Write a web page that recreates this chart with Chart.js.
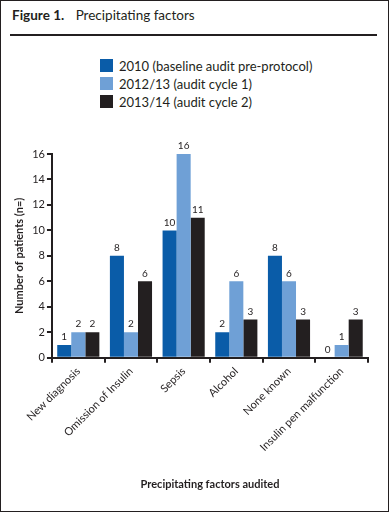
<!DOCTYPE html>
<html>
<head>
<meta charset="utf-8">
<script src="https://cdn.jsdelivr.net/npm/chart.js@4"></script>
<style>
  html, body { margin: 0; padding: 0; background: #fff; }
  body { width: 390px; height: 513px; position: relative; overflow: hidden; font-family: Lato, "Liberation Sans", sans-serif; color: #231f20; }
  #frame { position: absolute; left: 0; top: 0; width: 387px; height: 510px; border: 1.5px solid #231f20; }
  #title { position: absolute; left: 12px; top: 7px; font-size: 13.5px; }
  #title b { margin-right: 8px; }
  #rule { position: absolute; left: 10px; top: 34px; width: 367px; height: 2px; background: #231f20; }
  #legend { position: absolute; left: 100px; top: 59px; font-size: 13px; }
  .item { height: 18px; line-height: 14px; white-space: nowrap; }
  .item span.box { display: inline-block; width: 13px; height: 13px; vertical-align: top; margin-right: 6px; }
  #wrap { position: absolute; left: 2px; top: 118px; width: 386px; height: 392px; }
</style>
</head>
<body>
<div id="frame"></div>
<div id="title"><b>Figure 1.</b> Precipitating factors</div>
<div id="rule"></div>
<div id="legend"></div>
<div id="wrap"><canvas id="chart"></canvas></div>
<script>
const factors = ['New diagnosis', 'Omission of Insulin', 'Sepsis', 'Alcohol', 'None known', 'Insulin pen malfunction'];
const seriesNames = ['2010 (baseline audit pre-protocol)', '2012/13 (audit cycle 1)', '2013/14 (audit cycle 2)'];
const audit2010 = [1, 8, 10, 2, 8, 0];
const audit1213 = [2, 2, 16, 6, 6, 1];
const audit1314 = [2, 6, 11, 3, 3, 3];
const yTicks = [0, 2, 4, 6, 8, 10, 12, 14, 16];
const colours = ['#0a5ca8', '#6fa0d6', '#231f20'];

const seriesValues = [audit2010, audit1213, audit1314];

// simple html legend, stacked
const legendEl = document.getElementById('legend');
for (let i = 0; i < seriesNames.length; i++) {
    const row = document.createElement('div');
    row.className = 'item';
    row.innerHTML = '<span class="box" style="background:' + colours[i] + '"></span>' + seriesNames[i];
    legendEl.appendChild(row);
}

// numbers above the bars
const barValues = {
    id: 'barValues',
    afterDatasetsDraw(chart) {
        const ctx = chart.ctx;
        ctx.save();
        ctx.font = '10px Lato, "Liberation Sans", sans-serif';
        ctx.fillStyle = '#231f20';
        ctx.textAlign = 'center';
        ctx.textBaseline = 'bottom';
        chart.data.datasets.forEach((ds, i) => {
            chart.getDatasetMeta(i).data.forEach((bar, j) => {
                ctx.fillText(ds.data[j], bar.x, bar.y - 3);
            });
        });
        ctx.restore();
    }
};

const ctx = document.getElementById('chart').getContext('2d');
const chart = new Chart(ctx, {
    type: 'bar',
    data: {
        labels: factors,
        datasets: seriesNames.map((name, i) => ({
            label: name,
            data: seriesValues[i],
            backgroundColor: colours[i],
            barPercentage: 1.0,
            categoryPercentage: 0.8
        }))
    },
    options: {
        responsive: true,
        maintainAspectRatio: false,
        animation: false,
        layout: { padding: { top: 36, right: 20, left: 7, bottom: 15 } },
        plugins: {
            legend: { display: false },
            tooltip: { enabled: false }
        },
        scales: {
            x: {
                grid: { drawOnChartArea: false, color: '#231f20', lineWidth: 2, tickLength: 5 },
                border: { color: '#231f20', width: 2 },
                ticks: {
                    color: '#231f20',
                    font: { family: 'Lato', size: 11 },
                    minRotation: 45,
                    maxRotation: 45,
                    padding: 2
                },
                title: {
                    display: true,
                    text: 'Precipitating factors audited',
                    color: '#231f20',
                    font: { family: 'Lato', size: 11, weight: 'bold' },
                    padding: { top: 22 }
                }
            },
            y: {
                min: 0,
                max: 16,
                afterBuildTicks: (axis) => { axis.ticks = yTicks.map(v => ({ value: v })); },
                grid: { drawOnChartArea: false, color: '#231f20', lineWidth: 2, tickLength: 5 },
                border: { color: '#231f20', width: 2 },
                ticks: { color: '#231f20', font: { family: 'Lato', size: 11 }, padding: 2 },
                title: {
                    display: true,
                    text: 'Number of patients (n=)',
                    color: '#231f20',
                    font: { family: 'Lato', size: 11, weight: 'bold' },
                    padding: { bottom: 4 }
                }
            }
        }
    },
    plugins: [barValues]
});
</script>
</body>
</html>
